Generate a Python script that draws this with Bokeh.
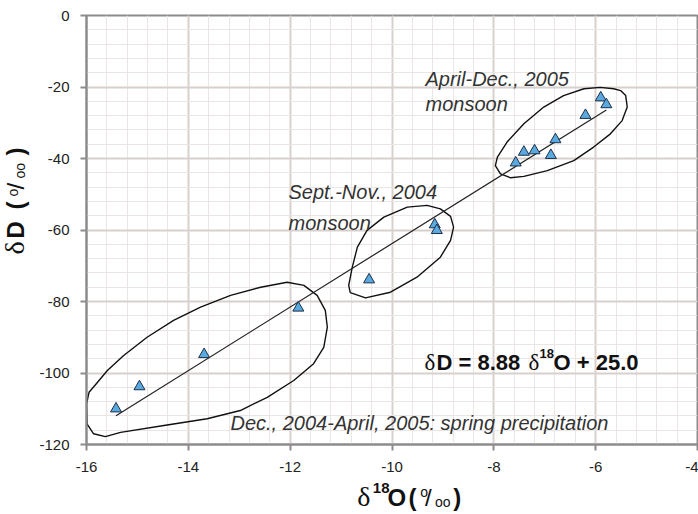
import math
from bokeh.plotting import figure
from bokeh.models import Label, Range1d, FixedTicker
from bokeh.layouts import row, column
from bokeh.embed import file_html
from bokeh.resources import INLINE

# ---- data ----
x_ticks = [-16, -14, -12, -10, -8, -6, -4]
x_tick_labels = ["-16", "-14", "-12", "-10", "-8", "-6", "-4"]
y_ticks = [-120, -100, -80, -60, -40, -20, 0]
y_tick_labels = ["-120", "-100", "-80", "-60", "-40", "-20", "0"]

spring_d18o = [-15.42, -14.96, -13.69, -11.84]
spring_dD = [-110.0, -103.8, -94.8, -81.8]
sept_d18o = [-10.45, -9.16, -9.12]
sept_dD = [-73.9, -58.5, -60.1]
april_d18o = [-5.90, -5.79, -6.20, -6.79, -6.88, -7.20, -7.41, -7.57]
april_dD = [-23.0, -24.9, -27.9, -34.7, -39.1, -37.8, -38.2, -41.2]

slope = 8.88
intercept = 25.0

# hand-drawn enclosing loops (annotation outlines, data coordinates)
spring_loop_x = [-16.0, -15.95, -15.82, -15.59, -15.27, -14.81, -14.29, -13.76, -13.17, -12.58,
                 -12.06, -11.73, -11.47, -11.31, -11.27, -11.34, -11.54, -11.93, -12.45, -12.98,
                 -13.63, -14.48, -15.33, -15.63, -15.86, -15.99, -16.0]
spring_loop_y = [-108.6, -105.4, -103.2, -99.3, -95.1, -90.0, -85.3, -81.6, -78.3, -76.0,
                 -74.6, -75.5, -78.3, -82.5, -87.2, -92.8, -97.4, -102.1, -106.8, -110.5,
                 -112.8, -114.7, -116.6, -117.8, -117.0, -114.2, -108.6]
sept_loop_x = [-10.49, -10.16, -9.70, -9.31, -9.05, -8.85, -8.79, -8.85, -9.05, -9.51,
               -10.03, -10.52, -10.82, -10.85, -10.78, -10.68, -10.49]
sept_loop_y = [-60.1, -56.4, -53.6, -53.1, -54.1, -56.2, -59.2, -62.9, -67.6, -73.2,
               -77.4, -79.0, -77.5, -75.5, -70.4, -64.8, -60.1]
april_loop_x = [-5.645, -5.91, -6.23, -6.63, -7.02, -7.41, -7.74, -7.93, -7.97, -7.87,
                -7.67, -7.41, -6.95, -6.43, -6.04, -5.71, -5.48, -5.38, -5.41, -5.51, -5.645]
april_loop_y = [-20.5, -20.1, -20.5, -22.4, -25.6, -30.3, -35.4, -39.6, -42.0, -44.3,
                -45.4, -45.0, -43.4, -40.6, -36.8, -33.1, -29.4, -25.6, -22.4, -21.0, -20.5]

# ---- main figure ----
p = figure(width=668, height=480, x_range=Range1d(-16, -4), y_range=Range1d(-120, 0),
           output_backend="svg", toolbar_location=None,
           min_border_left=56, min_border_right=1, min_border_top=15, min_border_bottom=36)
p.background_fill_color = "white"
p.border_fill_color = "white"
p.outline_line_color = "#8c8c8c"
p.outline_line_width = 2

x_minor = [x_ticks[0] + 0.4 * i for i in range(31)]
y_minor = [y_ticks[0] + 4 * i for i in range(31)]
p.xaxis.ticker = FixedTicker(ticks=x_ticks, minor_ticks=x_minor)
p.yaxis.ticker = FixedTicker(ticks=y_ticks, minor_ticks=y_minor)
p.xaxis.major_label_overrides = dict(zip(x_ticks, x_tick_labels))
p.yaxis.major_label_overrides = dict(zip(y_ticks, y_tick_labels))

for ax in (p.xaxis, p.yaxis):
    ax.axis_line_color = "#8c8c8c"
    ax.axis_line_width = 2
    ax.major_tick_line_color = "#8c8c8c"
    ax.major_tick_line_width = 2
    ax.major_tick_out = 6
    ax.major_tick_in = 0
    ax.minor_tick_line_color = None
    ax.major_label_text_font = "Liberation Sans"
    ax.major_label_text_font_size = "15px"
    ax.major_label_text_color = "#222222"
p.xaxis.major_label_standoff = 11
p.yaxis.major_label_standoff = 11

for g in (p.xgrid, p.ygrid):
    g.grid_line_color = "#d8d0cd"
    g.grid_line_width = 2
    g.minor_grid_line_color = "#ebe6e5"
    g.minor_grid_line_width = 1

# loops
for lx, ly in ((spring_loop_x, spring_loop_y), (sept_loop_x, sept_loop_y), (april_loop_x, april_loop_y)):
    p.line(lx, ly, line_color="#111111", line_width=1.4, line_join="round")

# regression line across the data range
all_x = spring_d18o + sept_d18o + april_d18o
x0, x1 = min(all_x), max(all_x)
p.line([x0, x1], [slope * x0 + intercept, slope * x1 + intercept], line_color="#222222", line_width=1.2)

# points
p.scatter(spring_d18o + sept_d18o + april_d18o, spring_dD + sept_dD + april_dD,
          marker="triangle", size=11, fill_color="#5aa9df", line_color="#1c2f4a", line_width=1)


def piece(fig, text, x, y, size, font="Liberation Sans", style="normal", color="#111111",
          rotated=False, units="screen"):
    # x, y give the intended alphabetic baseline start; compensate the observed label offset
    shift = 0.4 * size
    if rotated:
        x, angle = x - shift, math.pi / 2
    else:
        y, angle = y + shift, 0.0
    fig.add_layout(Label(x=x, y=y, x_units=units, y_units=units, text=text,
                         text_font=font, text_font_size=f"{size}px", text_font_style=style,
                         text_color=color, angle=angle, text_align="left",
                         text_baseline="alphabetic"))


# in-frame annotations (screen units, relative to frame bottom-left)
ital = "#333333"
piece(p, "April-Dec., 2005", 339, 358, 20, style="italic", color=ital)
piece(p, "monsoon", 339, 333, 20, style="italic", color=ital)
piece(p, "Sept.-Nov., 2004", 202, 245, 20, style="italic", color=ital)
piece(p, "monsoon", 202, 214, 20, style="italic", color=ital)
piece(p, "Dec., 2004-April, 2005: spring precipitation", 144, 14, 20, style="italic", color=ital)

# equation
piece(p, "δ", 338, 73, 23, font="Liberation Serif")
piece(p, "D = 8.88", 350, 73, 22, style="bold")
piece(p, "δ", 442, 73, 23, font="Liberation Serif")
piece(p, "18", 453, 86, 13, style="bold")
piece(p, "O + 25.0", 467, 73, 22, style="bold")


def blank(w, h):
    f = figure(width=w, height=h, x_range=Range1d(0, w), y_range=Range1d(0, h),
               x_axis_type=None, y_axis_type=None, toolbar_location=None,
               output_backend="svg", min_border=0)
    f.outline_line_color = None
    f.background_fill_color = "white"
    f.border_fill_color = "white"
    return f


# x-axis title strip (page x 30..698, page y 480..514)
xl = blank(668, 34)
piece(xl, "δ", 296, 7, 28, font="Liberation Serif", units="data")
piece(xl, "18", 313, 21, 15, style="bold", units="data")
piece(xl, "O", 329, 7, 24, style="bold", units="data")
piece(xl, "(", 352, 7, 24, style="bold", units="data")
piece(xl, "o", 365, 17, 14, units="data")
piece(xl, "/", 370, 7, 24, units="data")
piece(xl, "oo", 381, 7, 14, units="data")
piece(xl, ")", 401, 7, 24, style="bold", units="data")

# y-axis title strip (page x 0..30)
yl = blank(30, 514)
piece(yl, "δ", 25, 260, 28, font="Liberation Serif", rotated=True, units="data")
piece(yl, "D", 25, 276, 24, style="bold", rotated=True, units="data")
piece(yl, "(", 25, 305, 24, style="bold", rotated=True, units="data")
piece(yl, "o", 18, 318, 14, rotated=True, units="data")
piece(yl, "/", 25, 325, 24, rotated=True, units="data")
piece(yl, "oo", 25, 336, 14, rotated=True, units="data")
piece(yl, ")", 25, 359, 24, style="bold", rotated=True, units="data")

layout = row(yl, column(p, xl))
open("out.html", "w").write(file_html(layout, INLINE))
